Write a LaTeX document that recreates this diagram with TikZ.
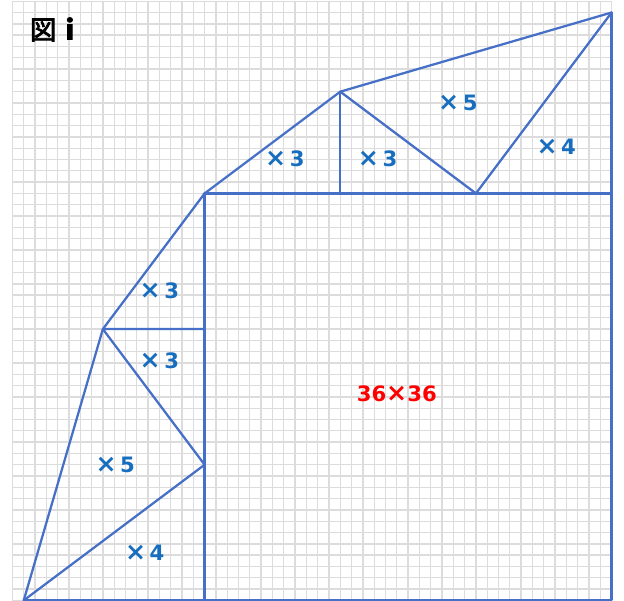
\documentclass[tikz,border=0pt]{standalone}
\usepackage{fontspec}
\setmainfont{DejaVu Sans}
\newfontfamily\cjkb[FakeBold=3]{Noto Sans CJK JP}
\definecolor{gridgray}{RGB}{220,220,220}
\definecolor{lineblue}{RGB}{70,112,200}
\definecolor{textblue}{RGB}{24,110,190}
\begin{document}
\begin{tikzpicture}[x=0.3cm,y=0.3cm,
  gridline/.style={draw=gridgray,line width=1pt},
  edge/.style={draw=lineblue,line width=1.7pt,line join=round,line cap=round},
  lab/.style={text=textblue,font=\bfseries\fontsize{16}{16}\selectfont,inner sep=0pt},
  biglab/.style={text=red,font=\bfseries\fontsize{16}{16}\selectfont,inner sep=0pt},
  titlelab/.style={text=black,inner sep=0pt}]
\useasboundingbox (-2.1,-0.05) rectangle (53.1,53.11);
\fill[white] (-2.1,-0.05) rectangle (53.1,53.11);
\draw[gridline,step=0.3cm] (-1,0) grid (52,53);
% vertices
\coordinate (A) at (0,0);
\coordinate (B) at (16,0);
\coordinate (C) at (16,12);
\coordinate (D) at (7,24);
\coordinate (E) at (16,24);
\coordinate (F) at (16,36);
\coordinate (G) at (28,45);
\coordinate (H) at (28,36);
\coordinate (I) at (40,36);
\coordinate (J) at (52,52);
\coordinate (K) at (52,36);
\coordinate (L) at (52,0);
% outline
\draw[edge] (A) -- (D) -- (F) -- (G) -- (J);
\draw[edge] (A) -- (L) -- (J);
\draw[edge] (B) -- (F) -- (K);
\draw[edge] (A) -- (C) -- (D) -- (E);
\draw[edge] (G) -- (H);
\draw[edge] (G) -- (I) -- (J);
% labels
\node[lab] (l1) at (23.1,39.1) {{\fontsize{19}{19}\selectfont ×}\,3};
\node[lab] (l2) at (31.3,39.1) {{\fontsize{19}{19}\selectfont ×}\,3};
\node[lab] (l3) at (38.4,44.0) {{\fontsize{19}{19}\selectfont ×}\,5};
\node[lab] (l4) at (47.1,40.1) {{\fontsize{19}{19}\selectfont ×}\,4};
\node[lab] (l5) at (12.0,27.4) {{\fontsize{19}{19}\selectfont ×}\,3};
\node[lab] (l6) at (12.0,21.2) {{\fontsize{19}{19}\selectfont ×}\,3};
\node[lab] (l7) at (8.1,11.95) {{\fontsize{19}{19}\selectfont ×}\,5};
\node[lab] (l8) at (10.7,4.2) {{\fontsize{19}{19}\selectfont ×}\,4};
\node[biglab] (l9) at (33.0,18.3) {36{\fontsize{19}{19}\selectfont ×}36};
\node[titlelab] (t1) at (2.5,50.5) {\cjkb\fontsize{20}{20}\selectfont 図\hspace{0.35em}\bfseries i};
\end{tikzpicture}
\end{document}
